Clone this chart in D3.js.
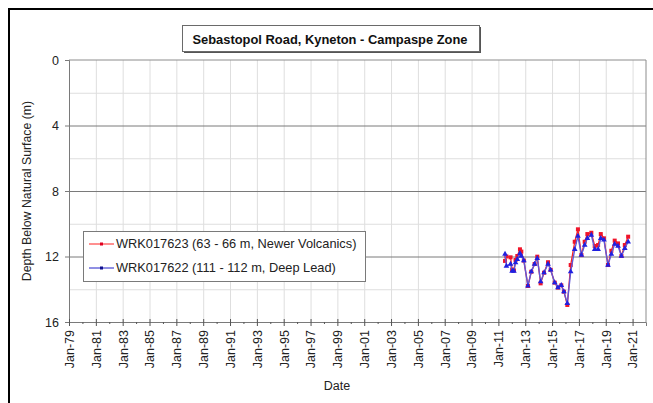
<!DOCTYPE html>
<html><head><meta charset="utf-8">
<script src="https://cdn.jsdelivr.net/npm/d3@7"></script>
<style>body{margin:0;background:#fff;}svg{display:block;font-family:"Liberation Sans",Arial,sans-serif;}</style>
</head><body>
<svg id="c" width="653" height="403"></svg>
<script>
const title = "Sebastopol Road, Kyneton - Campaspe Zone";
const seriesNames = ["WRK017623 (63 - 66 m, Newer Volcanics)", "WRK017622 (111 - 112 m, Deep Lead)"];
const dates = ["2011-07-01","2011-08-08","2011-11-28","2012-01-10","2012-02-28","2012-04-12","2012-05-30","2012-08-10","2012-09-16","2012-11-24",
"2013-03-15","2013-06-14","2013-09-13","2013-11-24","2014-02-24","2014-05-27","2014-09-13","2014-11-24","2015-03-15","2015-06-10",
"2015-09-09","2015-11-20","2016-02-20","2016-05-22","2016-09-09","2016-12-05","2017-03-10","2017-06-07","2017-08-19","2017-12-05",
"2018-03-07","2018-06-07","2018-08-19","2018-11-13","2019-03-03","2019-06-03","2019-09-02","2019-12-01","2020-03-03","2020-06-03","2020-09-02"];
const red = [12.27,12.0,12.05,12.8,12.85,12.21,11.97,11.56,11.7,12.25,13.8,12.93,12.46,12.01,13.64,12.99,12.35,12.82,13.6,13.9,13.76,14.15,14.96,12.52,11.1,10.34,11.91,11.1,10.63,10.55,11.36,11.3,10.63,10.89,12.52,11.65,11.03,11.2,11.97,11.3,10.79];
const blue = [11.85,12.58,12.46,12.89,12.89,12.38,12.17,11.81,11.97,12.25,13.8,12.93,12.46,12.11,13.54,12.99,12.46,12.82,13.6,13.9,13.76,14.15,14.86,12.93,11.56,10.75,11.91,11.3,10.89,10.69,11.56,11.56,10.89,10.99,12.52,11.85,11.24,11.36,11.97,11.5,11.1];
const yTicks = [0,4,8,12,16];
const yMinor = [2,6,10,14];
const xTickYears = d3.range(1979, 2022, 2);
const xMinorYears = d3.range(1980, 2022, 2);

const svg = d3.select("#c");
const L = 69, R = 646, T = 60, B = 322;
const parse = d3.timeParse("%Y-%m-%d");
const x = d3.scaleTime().domain([new Date(1979,0,1), new Date(2022,0,1)]).range([L, R]);
const y = d3.scaleLinear().domain([0,16]).range([T, B]);

// outer frame
svg.append("path").attr("d","M9,403 V9 H653").attr("fill","none").attr("stroke","#000").attr("stroke-width",2);

// plot area
svg.append("rect").attr("x",L).attr("y",T).attr("width",R-L).attr("height",B-T).attr("fill","#fff");
const vg = d3.axisBottom(x).tickValues(xTickYears.map(yr=>new Date(yr,0,1))).tickSize(-(B-T)).tickFormat("");
svg.append("g").attr("transform",`translate(0,${B})`).call(vg)
  .call(g=>{g.select(".domain").remove();g.selectAll("line").attr("stroke","#dedede");});
svg.append("g").attr("transform",`translate(${L},0)`).call(d3.axisLeft(y).tickValues(yMinor).tickSize(-(R-L)).tickFormat(""))
  .call(g=>{g.select(".domain").remove();g.selectAll("line").attr("stroke","#dedede");});
svg.append("g").attr("transform",`translate(${L},0)`).call(d3.axisLeft(y).tickValues([4,8,12]).tickSize(-(R-L)).tickFormat(""))
  .call(g=>{g.select(".domain").remove();g.selectAll("line").attr("stroke","#7a7a7a");});
svg.append("path").attr("d",`M${L},${T}H${R}V${B}`).attr("fill","none").attr("stroke","#8c8c8c");

// y axis
const ya = svg.append("g").attr("transform",`translate(${L},0)`).call(d3.axisLeft(y).tickValues(yTicks).tickSize(4).tickPadding(6));
ya.select(".domain").attr("stroke","#7a7a7a");
ya.selectAll("line").attr("stroke","#7a7a7a");
ya.selectAll("text").attr("font-size",12.5).attr("fill","#222").attr("font-family","Liberation Sans, Arial");

// x axis
const xa = svg.append("g").attr("transform",`translate(0,${B})`).call(d3.axisBottom(x).tickValues(xTickYears.map(yr=>new Date(yr,0,1))).tickSize(4).tickFormat(d3.timeFormat("%b-%y")));
xa.select(".domain").attr("stroke","#7a7a7a");
xa.selectAll("line").attr("stroke","#555").attr("y1",-3);
xa.selectAll("text").attr("font-size",12.5).attr("fill","#222").attr("font-family","Liberation Sans, Arial")
  .attr("transform","rotate(-90)").attr("text-anchor","end").attr("x",-8).attr("y",0).attr("dy","0.35em");
const xm = svg.append("g").attr("transform",`translate(0,${B})`).call(d3.axisBottom(x).tickValues(xMinorYears.map(yr=>new Date(yr,0,1))).tickSize(2).tickFormat(""));
xm.select(".domain").remove();
xm.selectAll("line").attr("stroke","#555");

// axis titles
svg.append("text").attr("transform",`translate(31,${(T+B)/2}) rotate(-90)`).attr("text-anchor","middle")
  .attr("font-size",12.3).attr("fill","#222").text("Depth Below Natural Surface (m)");
svg.append("text").attr("x",337).attr("y",390).attr("text-anchor","middle").attr("font-size",12.5).attr("fill","#222").text("Date");

// data
const redData = dates.map((d,i)=>({d:parse(d), v:red[i]}));
const blueData = dates.map((d,i)=>({d:parse(d), v:blue[i]}));
const line = d3.line().x(p=>x(p.d)).y(p=>y(p.v));
svg.append("path").datum(redData).attr("d",line).attr("fill","none").attr("stroke","#ff2020").attr("stroke-width",1.3);
svg.append("g").selectAll("rect").data(redData).join("rect")
  .attr("x",p=>x(p.d)-2).attr("y",p=>y(p.v)-2).attr("width",4).attr("height",4).attr("fill","#f0142a");
svg.append("path").datum(blueData).attr("d",line).attr("fill","none").attr("stroke","#6058d8").attr("stroke-width",1.4);
const tri = d3.symbol().type(d3.symbolTriangle).size(14);
svg.append("g").selectAll("path").data(blueData).join("path")
  .attr("transform",p=>`translate(${x(p.d)},${y(p.v)})`).attr("d",tri).attr("fill","#2020e0");

// legend
const lg = svg.append("g");
lg.append("rect").attr("x",83.5).attr("y",231.5).attr("width",282).attr("height",50).attr("fill","#fff").attr("stroke","#7a7a7a");
const rows = [{c:"#ff2020",mc:"#e00020",y:244},{c:"#2020c8",mc:"#101090",y:268}];
rows.forEach((r,i)=>{
  lg.append("line").attr("x1",89).attr("x2",114).attr("y1",r.y).attr("y2",r.y).attr("stroke",r.c).attr("stroke-width",1);
  lg.append("rect").attr("x",100).attr("y",r.y-1.5).attr("width",3).attr("height",3).attr("fill",r.mc);
  lg.append("text").attr("x",116).attr("y",r.y).attr("dy","0.35em").attr("font-size",12.8).attr("fill","#222").text(seriesNames[i]);
});

// title box
svg.append("rect").attr("x",184).attr("y",27).attr("width",297).attr("height",26).attr("fill","#555");
svg.append("rect").attr("x",182.5).attr("y",25.5).attr("width",297).attr("height",26).attr("fill","#fff").attr("stroke","#6a6a6a");
svg.append("text").attr("x",330).attr("y",39).attr("dy","0.35em").attr("text-anchor","middle").attr("font-size",12.9).attr("font-weight","bold").attr("fill","#111").text(title);
</script>
</body></html>
